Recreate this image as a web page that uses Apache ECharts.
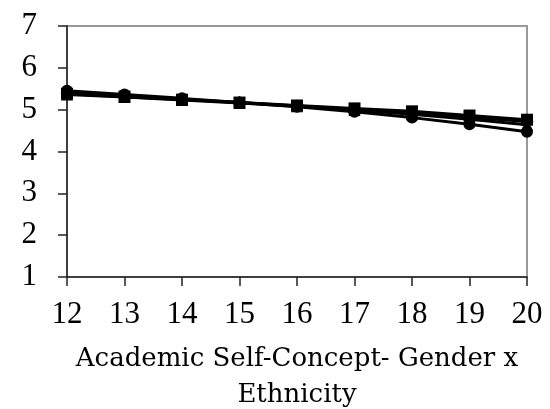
<!DOCTYPE html>
<html>
<head>
<meta charset="utf-8">
<script src="https://cdn.jsdelivr.net/npm/echarts@6/dist/echarts.min.js"></script>
<style>html,body{margin:0;padding:0;background:#fff}#c{width:550px;height:409px}</style>
</head>
<body>
<div id="c"></div>
<script>
var categories = ['12','13','14','15','16','17','18','19','20'];
var seriesSquare   = [5.38, 5.31, 5.24, 5.17, 5.10, 5.03, 4.96, 4.86, 4.76];
var seriesDiamond  = [5.40, 5.33, 5.25, 5.17, 5.09, 5.01, 4.92, 4.82, 4.72];
var seriesTriangle = [5.36, 5.30, 5.23, 5.16, 5.08, 4.99, 4.89, 4.77, 4.64];
var seriesCircle   = [5.45, 5.36, 5.27, 5.17, 5.07, 4.95, 4.81, 4.65, 4.47];
var axisTitle = 'Academic Self-Concept- Gender x\nEthnicity';

function mk(name, data, symbol, size) {
  return {
    name: name, type: 'line', data: data, symbol: symbol, symbolSize: size,
    lineStyle: { color: '#000', width: 3 },
    itemStyle: { color: '#000' },
    animation: false
  };
}
var chart = echarts.init(document.getElementById('c'), null, { renderer: 'canvas' });
chart.setOption({
  animation: false,
  grid: { left: 67, right: 23, top: 26, bottom: 132, show: true, borderColor: '#999', borderWidth: 2, backgroundColor: 'transparent', containLabel: false, outerBoundsMode: 'none' },
  xAxis: {
    type: 'category', data: categories, boundaryGap: false,
    axisLine: { lineStyle: { color: '#222', width: 1.5 } },
    axisTick: { show: true, length: 9, alignWithLabel: true, lineStyle: { color: '#222', width: 1.5 } },
    axisLabel: { color: '#000', fontFamily: 'Liberation Serif', fontSize: 31, margin: 22 },
    name: axisTitle, nameLocation: 'middle', nameGap: 64,
    nameTextStyle: { color: '#000', fontFamily: 'DejaVu Serif', fontSize: 26, lineHeight: 36 },
    splitLine: { show: false }
  },
  yAxis: {
    type: 'value', min: 1, max: 7, interval: 1,
    axisLine: { show: true, lineStyle: { color: '#222', width: 1.5 } },
    axisTick: { show: true, length: 9, lineStyle: { color: '#222', width: 1.5 } },
    axisLabel: { color: '#000', fontFamily: 'Liberation Serif', fontSize: 31, margin: 30 },
    splitLine: { show: false }
  },
  series: [
    mk('A', seriesCircle, 'circle', 12),
    mk('B', seriesTriangle, 'triangle', 12),
    mk('C', seriesDiamond, 'diamond', 13),
    mk('D', seriesSquare, 'rect', 12)
  ]
});
</script>
</body>
</html>
